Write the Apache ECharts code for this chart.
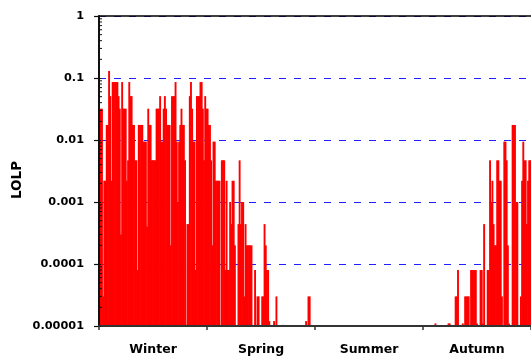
<!DOCTYPE html>
<html><head><meta charset="utf-8">
<script src="https://cdn.jsdelivr.net/npm/echarts@6/dist/echarts.min.js"></script>
<style>html,body{margin:0;padding:0;background:#fff}#c{width:531px;height:358px}</style>
</head><body><div id="c"></div>
<script>
// Season labels on the x axis
const seasons = ['Winter', 'Spring', 'Summer', 'Autumn'];
// y tick labels (log axis, decades)
const yTickLabels = ['0.00001', '0.0001', '0.001', '0.01', '0.1', '1'];
// Minor tick multipliers inside each decade
const minorMultipliers = [2, 3, 4, 5, 6, 7, 8, 9];
// Daily LOLP values, 91 days per season (null = no bar)
const winter = [
  0.0175, 0.032, 0.032, 0.00003, 0.0022, 0.0022, 0.0175, 0.0175, 0.13, 0.051,
  0.0022, 0.086, 0.086, 0.086, 0.086, 0.086, 0.051, 0.032, 0.0003, 0.086,
  0.032, 0.032, 0.032, 0.0022, 0.0047, 0.086, 0.051, 0.051, 0.0175, 0.0175,
  0.0047, 0.0047, 0.00008, 0.0175, 0.0175, 0.0175, 0.0175, 0.0094, 0.0094, 0.0094,
  0.0004, 0.032, 0.0175, 0.0175, 0.0047, 0.0047, 0.0047, 0.0047, 0.032, 0.032,
  0.032, 0.051, 0.0094, 0.0094, 0.032, 0.051, 0.032, 0.0175, 0.0175, 0.0175,
  0.0002, 0.051, 0.051, 0.051, 0.086, 0.0094, 0.001, 0.0094, 0.0175, 0.032,
  0.0175, 0.0175, 0.0047, 0.0000105, 0.00044, 0.00044, 0.051, 0.086, 0.032, 0.0094,
  0.0094, 0.00008, 0.051, 0.051, 0.051, 0.086, 0.086, 0.032, 0.0047, 0.051,
  0.032
];
const spring = [
  0.032, 0.0175, 0.0175, 0.0047, 0.0002, 0.0094, 0.0094, 0.0022, 0.0022, 0.0022,
  0.0022, null, 0.0047, 0.0047, 0.0047, 0.00008, 0.0022, 0.00008, 0.00008, 0.001,
  0.00044, 0.0022, 0.0022, 0.0002, null, null, 0.00044, 0.0047, 0.00044, 0.001,
  0.001, 0.00003, 0.00044, 0.0002, 0.0002, 0.0002, 0.0002, 0.0002, null, null,
  0.00008, null, 0.00003, 0.00003, null, null, 0.00003, 0.00003, 0.00044, 0.0002,
  0.00008, 0.00008, 0.000012, null, null, null, 0.000012, null, 0.00003, null,
  null, null, null, null, null, null, null, null, null, null,
  null, null, null, null, null, null, null, null, null, null,
  null, null, null, 0.000012, null, 0.00003, 0.00003, null, null, null,
  null
];
const summer = [
  null, null, null, null, null, null, null, null, null, null,
  null, null, null, null, null, null, null, null, null, null,
  null, null, null, null, null, null, null, null, null, null,
  null, null, null, null, null, null, null, null, null, null,
  null, null, null, null, null, null, null, null, null, null,
  null, null, null, null, null, null, null, null, null, null,
  null, null, null, null, null, null, null, null, null, null,
  null, null, null, null, null, null, null, null, null, null,
  null, null, null, null, null, null, null, null, null, null,
  null
];
const autumn = [
  null, null, null, null, null, null, null, null, null, null,
  0.000011, null, null, null, null, null, null, null, null, null,
  null, 0.000011, 0.000011, null, null, null, null, 0.00003, 0.00003, 0.00008,
  null, null, null, 0.000011, null, 0.00003, 0.00003, 0.00003, 0.00003, null,
  0.00008, 0.00008, 0.00008, 0.00008, 0.00008, 0.000011, null, null, 0.00008, 0.00008,
  0.000011, 0.00044, null, null, 0.00008, 0.00008, 0.0047, 0.001, 0.0022, 0.00044,
  0.0002, 0.0002, 0.0047, 0.0047, 0.0022, 0.0022, 0.00003, null, 0.0094, 0.0094,
  0.0047, 0.0002, 0.000011, null, null, 0.0175, 0.0175, 0.0175, 0.001, 0.001,
  null, null, 0.00003, 0.0022, 0.0094, 0.0047, 0.0047, 0.00044, 0.0022, 0.0047,
  0.0047
];

const values = winter.concat(spring, summer, autumn);
const days = values.map((_, i) => i + 1);

const FONT = 'DejaVu Sans';
const chart = echarts.init(document.getElementById('c'), null, {renderer: 'canvas'});
const logAxisBase = {type: 'log', min: 0.00001, max: 1, logBase: 10, startValue: 0.00001};
chart.setOption({
  animation: false,
  backgroundColor: '#fff',
  grid: {left: 99, right: -2, top: 16, bottom: 32, containLabel: false},
  xAxis: [
    {type: 'category', data: days, show: false, boundaryGap: true, position: 'bottom'},
    {type: 'category', data: seasons, position: 'bottom', boundaryGap: true, z: 5,
     axisLine: {show: true, lineStyle: {color: '#333', width: 2}},
     axisTick: {show: true, length: 4, lineStyle: {color: '#333', width: 1.5}},
     axisLabel: {color: '#000', fontFamily: FONT, fontWeight: 'bold', fontSize: 12.5, margin: 17},
     splitLine: {show: false}},
    {type: 'category', data: seasons, position: 'top', z: 5,
     axisLine: {show: true, lineStyle: {color: '#000', width: 1.5}},
     axisTick: {show: false}, axisLabel: {show: false}, splitLine: {show: false}}
  ],
  yAxis: [
    Object.assign({}, logAxisBase, {position: 'left', z: 5,
      axisLine: {show: true, lineStyle: {color: '#111', width: 2}},
      axisTick: {show: true, inside: false, length: 5, lineStyle: {color: '#111', width: 1.2}},
      axisLabel: {color: '#000', fontFamily: FONT, fontWeight: 'bold', fontSize: 11.3, margin: 15,
        formatter: v => yTickLabels[Math.round(Math.log10(v)) + 5]},
      splitLine: {show: false}}),
    Object.assign({}, logAxisBase, {position: 'left', z: 0,
      axisLine: {show: false}, axisTick: {show: false}, axisLabel: {show: false},
      splitLine: {show: true, lineStyle: {color: '#2020ff', width: 1.2, type: [7, 8]}}}),
    Object.assign({}, logAxisBase, {position: 'left', z: 5,
      axisLine: {show: false},
      axisTick: {show: true, inside: true, length: 2, lineStyle: {color: '#111', width: 1.2}},
      axisLabel: {show: false}, splitLine: {show: false}})
  ],
  series: [{
    type: 'bar', xAxisIndex: 0, yAxisIndex: 0, data: values,
    barWidth: 1.9, barGap: '0%',
    itemStyle: {color: '#ff0000'}, emphasis: {disabled: true}
  }]
});

// Minor log ticks (2..9 within each decade) placed through the axis scale
const leftX = chart.getModel().getComponent('grid', 0).coordinateSystem.getRect().x;
const graphics = [];
for (let e = -5; e < 0; e++) {
  minorMultipliers.forEach(k => {
    const y = chart.convertToPixel({yAxisIndex: 0}, k * Math.pow(10, e));
    graphics.push({type: 'line', z: 10, shape: {x1: leftX, y1: y, x2: leftX + 3, y2: y},
      style: {stroke: '#111', lineWidth: 1}});
  });
}
graphics.push({
  type: 'text', x: 17.5, y: 180, rotation: Math.PI / 2, z: 10,
  style: {text: 'LOLP', fill: '#000', font: 'bold 13.5px "DejaVu Sans"', align: 'center', verticalAlign: 'middle'}
});
chart.setOption({graphic: graphics});
</script></body></html>
